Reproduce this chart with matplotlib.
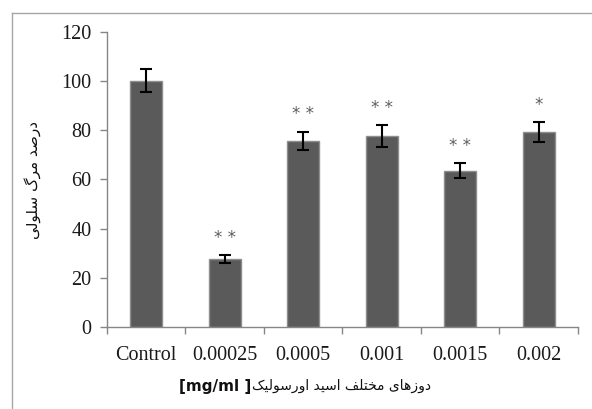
import matplotlib
matplotlib.use("Agg")
import matplotlib.pyplot as plt
from matplotlib.lines import Line2D
import numpy as np

# data
categories = ["Control", "0.00025", "0.0005", "0.001", "0.0015", "0.002"]
means = [100.2, 27.7, 75.8, 77.7, 63.6, 79.3]
errors = [4.8, 1.6, 3.7, 4.3, 3.0, 4.1]
stars = ["", "**", "**", "**", "**", "*"]
yticks = [0, 20, 40, 60, 80, 100, 120]

ylabel_fa = "درصد مرگ سلولی"
xlabel_fa = "دوزهای مختلف اسید اورسولیک"
xlabel_unit = "[mg/ml ]"

# simple Persian shaping (matplotlib 3.10 has no complex text layout)
FORMS = {
    "ا": ("\uFE8D", "\uFE8E", None, None),
    "ت": ("\uFE95", "\uFE96", "\uFE97", "\uFE98"),
    "خ": ("\uFEA5", "\uFEA6", "\uFEA7", "\uFEA8"),
    "د": ("\uFEA9", "\uFEAA", None, None),
    "ر": ("\uFEAD", "\uFEAE", None, None),
    "ز": ("\uFEAF", "\uFEB0", None, None),
    "س": ("\uFEB1", "\uFEB2", "\uFEB3", "\uFEB4"),
    "ص": ("\uFEB9", "\uFEBA", "\uFEBB", "\uFEBC"),
    "ف": ("\uFED1", "\uFED2", "\uFED3", "\uFED4"),
    "ل": ("\uFEDD", "\uFEDE", "\uFEDF", "\uFEE0"),
    "م": ("\uFEE1", "\uFEE2", "\uFEE3", "\uFEE4"),
    "ه": ("\uFEE9", "\uFEEA", "\uFEEB", "\uFEEC"),
    "و": ("\uFEED", "\uFEEE", None, None),
    "ی": ("\uFBFC", "\uFBFD", "\uFBFE", "\uFBFF"),
    "ک": ("\uFB8E", "\uFB8F", "\uFB90", "\uFB91"),
    "گ": ("\uFB92", "\uFB93", "\uFB94", "\uFB95"),
}


def shape(text):
    out = []
    for i, ch in enumerate(text):
        if ch not in FORMS:
            out.append(ch)
            continue
        prev = text[i - 1] if i > 0 else ""
        nxt = text[i + 1] if i + 1 < len(text) else ""
        join_prev = prev in FORMS and FORMS[prev][2] is not None
        join_next = nxt in FORMS and FORMS[ch][2] is not None
        iso, fin, ini, med = FORMS[ch]
        if join_prev and join_next:
            out.append(med)
        elif join_prev:
            out.append(fin)
        elif join_next:
            out.append(ini)
        else:
            out.append(iso)
    return "".join(out)[::-1]


fig = plt.figure(figsize=(5.92, 4.09), dpi=100)
ax = fig.add_axes([0.1807, 0.2005, 0.7956, 0.7213])

x = np.arange(len(categories))
ax.bar(x, means, width=0.41, color="#5a5a5a", edgecolor="#8e8e8e", linewidth=1,
       zorder=2)
ax.errorbar(x, means, yerr=errors, fmt="none", ecolor="black", elinewidth=1.5,
            capsize=4.5, capthick=1.5, zorder=3)

for xi, m, e, s in zip(x, means, errors, stars):
    if s:
        ax.text(xi, m + e + 7, " ".join(s), ha="center", va="center",
                fontsize=12, color="#5e5e5e", family="DejaVu Sans")

ax.set_xlim(-0.5, len(categories) - 0.5)
ax.set_ylim(0, 120)
ax.set_yticks(yticks)
ax.set_xticks(x)
ax.set_xticklabels(categories)
ax.set_xticks(np.arange(len(categories) + 1) - 0.5, minor=True)
ax.tick_params(axis="x", which="major", length=0, pad=14)
ax.tick_params(axis="x", which="minor", length=5, color="#868686", width=1)
ax.tick_params(axis="y", length=5, color="#868686", width=1, pad=6)
for lab in ax.get_xticklabels() + ax.get_yticklabels():
    lab.set_family("Liberation Serif")
    lab.set_fontsize(14.5)
    lab.set_color("#1a1a1a")

for side in ["top", "right"]:
    ax.spines[side].set_visible(False)
for side in ["left", "bottom"]:
    ax.spines[side].set_color("#868686")
    ax.spines[side].set_linewidth(1)

# y label
fig.text(33 / 592, 1 - 180 / 409, shape(ylabel_fa), rotation=90, ha="center",
         va="center", fontsize=11, family="DejaVu Sans", color="#111111")

# x label: persian part plus bold unit on its left
fa = fig.text(0, 1 - 386 / 409, shape(xlabel_fa), ha="left", va="center",
              fontsize=10, family="DejaVu Sans", color="#111111")
un = fig.text(0, 1 - 386 / 409, xlabel_unit, ha="left", va="center",
              fontsize=11, family="DejaVu Sans", weight="bold", color="#111111")
fig.canvas.draw()
r = fig.canvas.get_renderer()
w_fa = fa.get_window_extent(r).width
w_un = un.get_window_extent(r).width
total = w_fa + w_un
start = 305 - total / 2
un.set_x(start / 592)
fa.set_x((start + w_un) / 592)

# outer frame of the chart area
fig.add_artist(Line2D([12 / 592, 1.0], [1 - 13 / 409, 1 - 13 / 409],
                      color="#a6a6a6", lw=1, transform=fig.transFigure))
fig.add_artist(Line2D([12 / 592, 12 / 592], [1 - 13 / 409, 0.0],
                      color="#a6a6a6", lw=1, transform=fig.transFigure))

fig.savefig("out.png", dpi=100)
